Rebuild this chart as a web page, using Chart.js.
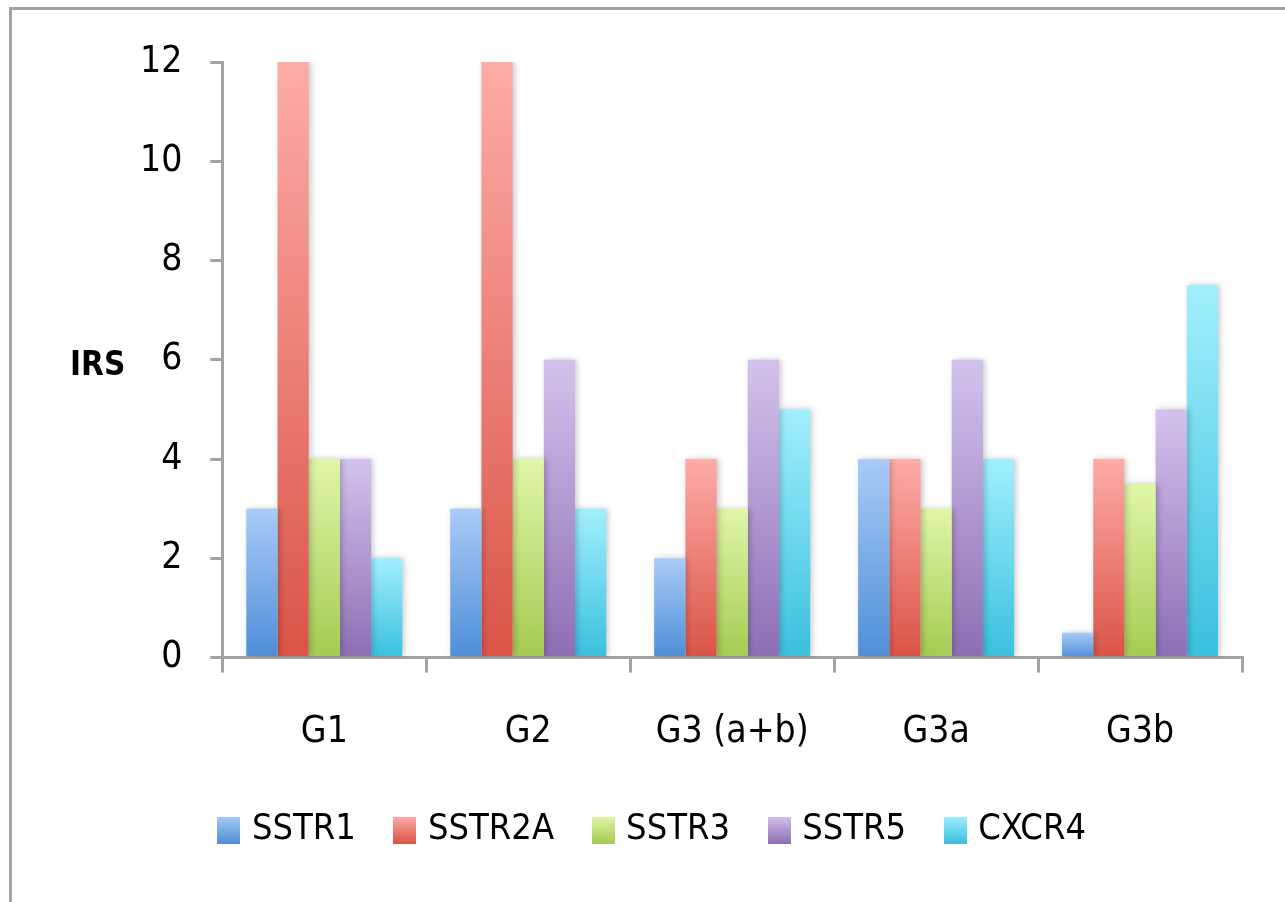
<!DOCTYPE html>
<html>
<head>
<meta charset="utf-8">
<script src="https://cdn.jsdelivr.net/npm/chart.js@4.4.0/dist/chart.umd.min.js"></script>
<style>
  html, body { margin: 0; padding: 0; background: #fff; }
  #wrap { position: relative; width: 1285px; height: 902px; }
  #frame { position: absolute; left: 9px; top: 7px; right: 0; bottom: 0;
           border-top: 3px solid #a3a3a3; border-left: 3px solid #a3a3a3; }
  canvas { position: absolute; left: 0; top: 0; }
</style>
</head>
<body>
<div id="wrap">
  <div id="frame"></div>
  <canvas id="c" width="1285" height="902"></canvas>
</div>
<script>
const categories = ["G1", "G2", "G3 (a+b)", "G3a", "G3b"];
const seriesNames = ["SSTR1", "SSTR2A", "SSTR3", "SSTR5", "CXCR4"];
const sstr1  = [3, 3, 2, 4, 0.5];
const sstr2a = [12, 12, 4, 4, 4];
const sstr3  = [4, 4, 3, 3, 3.5];
const sstr5  = [4, 6, 6, 6, 5];
const cxcr4  = [2, 3, 5, 4, 7.5];
const yTicks = [0, 2, 4, 6, 8, 10, 12];
const axisTitle = "IRS";

const palette = [
  { top: "#a9cbf6", bottom: "#4e8ed7" },
  { top: "#fdaca7", bottom: "#da5447" },
  { top: "#e0f6a9", bottom: "#a6cb52" },
  { top: "#d3c2ed", bottom: "#8e6eb4" },
  { top: "#a2effd", bottom: "#3ac0de" }
];

const FONT = "'DejaVu Sans Condensed', 'Liberation Sans Narrow', Roboto, sans-serif";
const FS = 37;

function gradientFill(i) {
  return function (ctx) {
    const chart = ctx.chart;
    if (!chart.chartArea || ctx.type !== 'data') return palette[i].bottom;
    const y = chart.scales.y;
    const top = y.getPixelForValue(ctx.raw);
    const bot = y.getPixelForValue(0);
    if (!isFinite(top) || !isFinite(bot) || top === bot) return palette[i].bottom;
    const g = chart.ctx.createLinearGradient(0, top, 0, bot);
    g.addColorStop(0, palette[i].top);
    g.addColorStop(1, palette[i].bottom);
    return g;
  };
}

function legendSwatch(i) {
  const cv = document.createElement('canvas');
  cv.width = 23; cv.height = 27;
  const c = cv.getContext('2d');
  const g = c.createLinearGradient(0, 0, 0, 27);
  g.addColorStop(0, palette[i].top);
  g.addColorStop(1, palette[i].bottom);
  c.fillStyle = g;
  c.fillRect(0, 0, 23, 27);
  return cv;
}

const seriesValues = [sstr1, sstr2a, sstr3, sstr5, cxcr4];
const datasets = seriesNames.map((name, i) => ({
  label: name,
  data: seriesValues[i],
  backgroundColor: gradientFill(i),
  borderWidth: 0,
  pointStyle: legendSwatch(i),
  categoryPercentage: 0.765,
  barPercentage: 1.0
}));

const shadowPlugin = {
  id: 'barShadow',
  beforeDatasetsDraw(chart) {
    const c = chart.ctx;
    c.save();
    c.shadowColor = 'rgba(0,0,0,0.22)';
    c.shadowBlur = 6;
    c.shadowOffsetX = 2;
    c.shadowOffsetY = 0;
  },
  afterDatasetsDraw(chart) {
    chart.ctx.restore();
  }
};

const legendShift = {
  id: 'legendShift',
  afterLayout(chart) {
    if (chart.legend) { chart.legend.left -= 44; }
  }
};

const titlePlugin = {
  id: 'irsTitle',
  afterDraw(chart) {
    const c = chart.ctx;
    const y = chart.scales.y;
    c.save();
    c.font = "bold 33px " + FONT;
    c.fillStyle = "#000";
    c.textAlign = "left";
    c.textBaseline = "middle";
    c.fillText(axisTitle, 70, y.getPixelForValue(6) + 7);
    c.restore();
  }
};

new Chart(document.getElementById('c'), {
  type: 'bar',
  data: { labels: categories, datasets },
  plugins: [shadowPlugin, legendShift, titlePlugin],
  options: {
    responsive: false,
    animation: false,
    layout: { padding: { left: 112, right: 43, top: 62, bottom: 44 } },
    plugins: {
      tooltip: { enabled: false },
      legend: {
        position: 'bottom',
        labels: {
          usePointStyle: true,
          pointStyleWidth: 10,
          boxHeight: 27,
          padding: 44,
          color: '#000',
          font: { family: FONT, size: 36 }
        }
      }
    },
    scales: {
      x: {
        afterFit(scale) { scale.height -= 25; },
        grid: { display: true, drawOnChartArea: false, drawTicks: true, tickLength: 15, color: '#a3a3a3', lineWidth: 3, offset: true },
        border: { display: true, color: '#a3a3a3', width: 3 },
        ticks: { color: '#000', font: { family: FONT, size: FS }, padding: 38, maxRotation: 0 }
      },
      y: {
        min: 0, max: 12,
        afterBuildTicks(scale) { scale.ticks = yTicks.map(v => ({ value: v })); },
        grid: { display: true, drawOnChartArea: false, drawTicks: true, tickLength: 12, color: '#a3a3a3', lineWidth: 3 },
        border: { display: true, color: '#a3a3a3', width: 3 },
        ticks: { color: '#000', font: { family: FONT, size: FS }, padding: 28 }
      }
    }
  }
});
</script>
</body>
</html>
